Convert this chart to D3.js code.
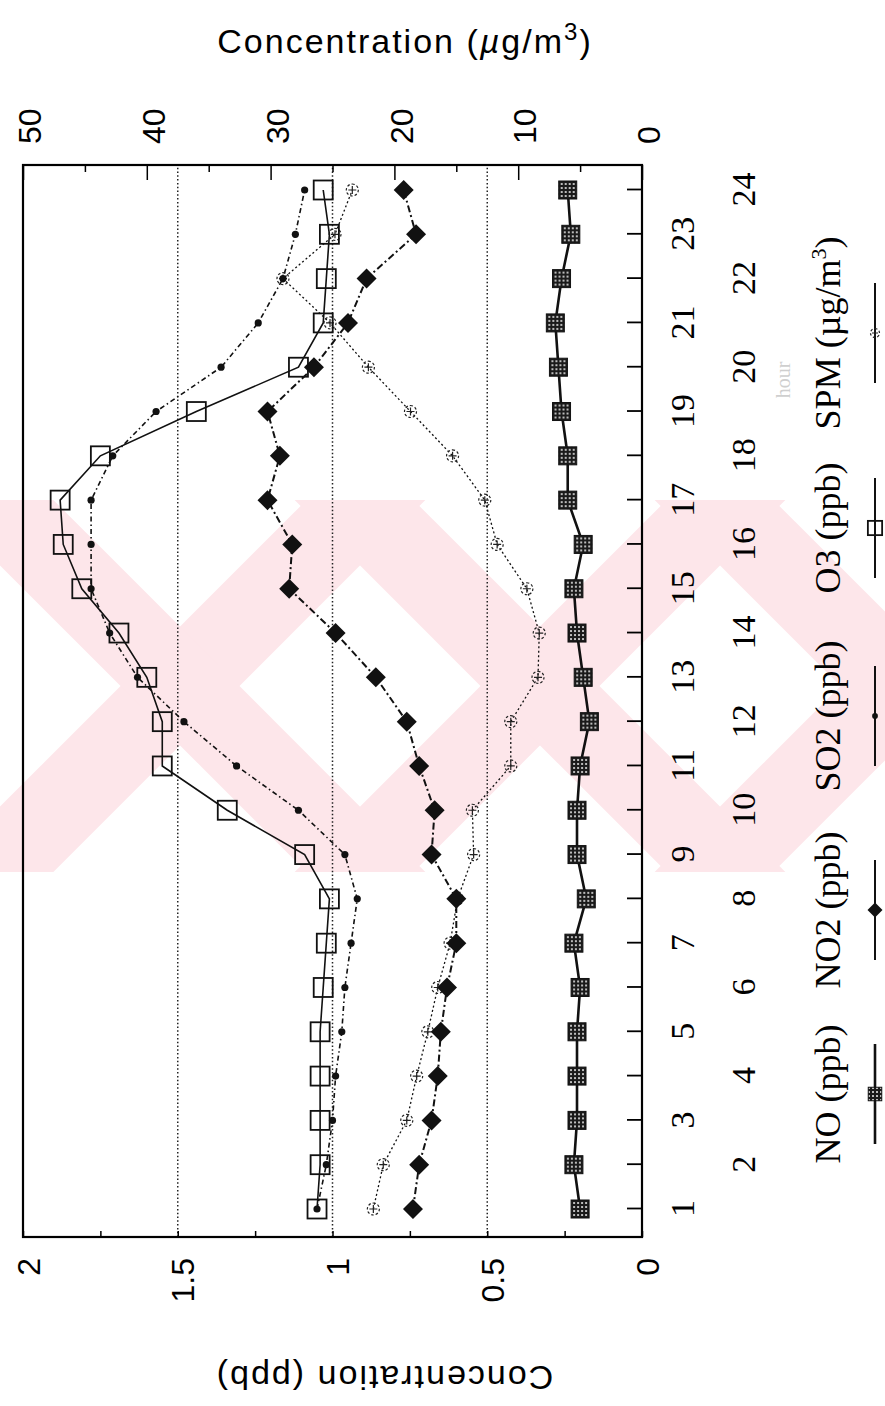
<!DOCTYPE html>
<html><head><meta charset="utf-8">
<script src="https://cdn.jsdelivr.net/npm/d3@7"></script>
<style>body{margin:0;background:#fff} svg{display:block}</style>
</head><body>
<svg id="c" width="885" height="1406"></svg>
<script>
// ---------------- DATA ----------------
const hours = [1,2,3,4,5,6,7,8,9,10,11,12,13,14,15,16,17,18,19,20,21,22,23,24];
const hourLabels = ["1","2","3","4","5","6","7","8","9","10","11","12","13","14","15","16","17","18","19","20","21","22","23","24"];
const ppbTicks = [0,0.25,0.5,0.75,1,1.25,1.5,1.75,2];
const ppbLabelVals = [0,0.5,1,1.5,2];
const ppbLabels = ["0","0.5","1","1.5","2"];
const ugTicks = [0,5,10,15,20,25,30,35,40,45,50];
const ugLabelVals = [0,10,20,30,40,50];
const ugLabels = ["0","10","20","30","40","50"];
const gridVals = [0.5,1,1.5];

const NO  = [0.20,0.22,0.21,0.21,0.21,0.20,0.22,0.18,0.21,0.21,0.20,0.17,0.19,0.21,0.22,0.19,0.24,0.24,0.26,0.27,0.28,0.26,0.23,0.24];
const NO2 = [0.74,0.72,0.68,0.66,0.65,0.63,0.60,0.60,0.68,0.67,0.72,0.76,0.86,0.99,1.14,1.13,1.21,1.17,1.21,1.06,0.95,0.89,0.73,0.77];
const SO2 = [1.05,1.02,1.00,0.99,0.97,0.96,0.94,0.92,0.96,1.11,1.31,1.48,1.63,1.72,1.78,1.78,1.78,1.71,1.57,1.36,1.24,1.16,1.12,1.09];
const O3  = [1.05,1.04,1.04,1.04,1.04,1.03,1.02,1.01,1.09,1.34,1.55,1.55,1.60,1.69,1.81,1.87,1.88,1.75,1.44,1.11,1.03,1.02,1.01,1.03];
const SPM = [21.7,20.9,19.0,18.2,17.3,16.5,15.5,14.9,13.6,13.7,10.6,10.6,8.4,8.3,9.3,11.7,12.7,15.3,18.7,22.1,25.2,29.0,24.8,23.4];

const seriesNames = ["NO","NO2","SO2","O3","SPM"];
const legendLabels = ["NO (ppb)","NO2 (ppb)","SO2 (ppb)","O3 (ppb)","SPM (\u00b5g/m"];
const leftTitle = "Concentration (ppb)";
const rightTitle = "Concentration (";
const xTitle = "hour";

// ---------------- LAYOUT ----------------
const W = 885, H = 1406;
const U0 = 169, U1 = 1241, V0 = 23, V1 = 642;   // plot box in unrotated frame
const legendU = [312, 496, 690, 878, 1073];
const SERIF = "'Liberation Serif','Times New Roman',serif";
const SANS = "'Liberation Sans',Arial,Helvetica,sans-serif";

const svg = d3.select('#c');
const defs = svg.append('defs');
const pat = defs.append('pattern').attr('id','chk').attr('patternUnits','userSpaceOnUse')
  .attr('width',4).attr('height',4);
pat.append('rect').attr('width',4).attr('height',4).attr('fill','#1a1a1a');
pat.append('circle').attr('cx',2).attr('cy',2).attr('r',0.95).attr('fill','#fff');
defs.append('clipPath').attr('id','wmclip').append('rect')
  .attr('x',0).attr('y',500).attr('width',W).attr('height',372);

// watermark (background)
const wm = svg.append('g').attr('clip-path','url(#wmclip)');
[180,540,900].forEach(cx => {
  [45,-45].forEach(a => {
    wm.append('rect').attr('x',cx-42).attr('y',686-330).attr('width',84).attr('height',660)
      .attr('transform',`rotate(${a},${cx},686)`).attr('fill','#fde6ea');
  });
});

// rotated chart group: local (u,v) -> screen (v, H-u)
const g = svg.append('g').attr('transform',`translate(0,${H}) rotate(-90)`);

const x = d3.scaleLinear().domain([1,24]).range([197,1216]);
const yP = d3.scaleLinear().domain([0,2]).range([V1,V0]);
const yU = d3.scaleLinear().domain([0,50]).range([V1,V0]);

// grid
g.selectAll('line.grid').data(gridVals).join('line').attr('class','grid')
  .attr('x1',U0).attr('x2',U1).attr('y1',d=>yP(d)).attr('y2',d=>yP(d))
  .attr('stroke','#222').attr('stroke-width',1.5).attr('stroke-dasharray','1.5,2.3');

// left axis (ppb)
const axL = d3.axisLeft(yP).tickValues(ppbTicks).tickSizeInner(-6).tickSizeOuter(0).tickPadding(21)
  .tickFormat(d => { const i = ppbLabelVals.indexOf(d); return i>=0 ? ppbLabels[i] : ''; });
const gl = g.append('g').attr('transform',`translate(${U0},0)`).call(axL);
gl.select('.domain').remove();
gl.selectAll('line').attr('stroke','#000').attr('stroke-width',1.5);
gl.selectAll('text').attr('font-family',SANS).attr('font-size',32).attr('fill','#000').attr('dy','0.5em');

// right axis (ug/m3)
const axR = d3.axisRight(yU).tickValues(ugTicks).tickSizeInner(-7).tickSizeOuter(0).tickPadding(21)
  .tickFormat(d => { const i = ugLabelVals.indexOf(d); return i>=0 ? ugLabels[i] : ''; });
const gr = g.append('g').attr('transform',`translate(${U1},0)`).call(axR);
gr.select('.domain').remove();
gr.selectAll('line').attr('stroke','#000').attr('stroke-width',1.5)
  .attr('x2', d => ugLabelVals.indexOf(d)>=0 ? -15 : -7);
gr.selectAll('text').attr('font-family',SANS).attr('font-size',32).attr('fill','#000').attr('dy','0.55em');

// bottom axis (hours)
const axB = d3.axisBottom(x).tickValues(hours).tickSizeInner(-15).tickSizeOuter(0).tickPadding(0)
  .tickFormat((d,i) => hourLabels[i]);
const gb = g.append('g').attr('transform',`translate(0,${V1})`).call(axB);
gb.select('.domain').remove();
gb.selectAll('line').attr('stroke','#000').attr('stroke-width',1.8);
gb.selectAll('text').attr('font-family',SERIF).attr('font-size',34).attr('fill','#000')
  .attr('y',(d,i)=> i%2===0 ? 40 : 101).attr('dy','0.35em');

// box
g.append('rect').attr('x',U0).attr('y',V0).attr('width',U1-U0).attr('height',V1-V0)
  .attr('fill','none').attr('stroke','#000').attr('stroke-width',2.2);

// series
const lineP = d3.line().x((d,i)=>x(hours[i])).y(d=>yP(d));
const lineU = d3.line().x((d,i)=>x(hours[i])).y(d=>yU(d));
const styles = {
  NO:  {w:2.6, dash:null},
  NO2: {w:2.0, dash:'7,3,2,3'},
  SO2: {w:1.6, dash:'5,3,1.5,3'},
  O3:  {w:1.6, dash:null},
  SPM: {w:1.3, dash:'2,2.5'}
};
const dataMap = {NO, NO2, SO2, O3, SPM};
["SPM","SO2","NO2","O3","NO"].forEach(k => {
  g.append('path').datum(dataMap[k]).attr('d', k==='SPM' ? lineU : lineP)
    .attr('fill','none').attr('stroke','#111').attr('stroke-width',styles[k].w)
    .attr('stroke-dasharray',styles[k].dash);
});

function marker(sel, k, size){
  const s = size || 1;
  if(k==='NO'){
    sel.append('rect').attr('x',-9*s).attr('y',-9*s).attr('width',18*s).attr('height',18*s)
      .attr('fill','url(#chk)').attr('stroke','#111').attr('stroke-width',1);
  } else if(k==='NO2'){
    const r = 10*s;
    sel.append('path').attr('d',`M0,${-r}L${r},0L0,${r}L${-r},0Z`).attr('fill','#111');
  } else if(k==='SO2'){
    sel.append('circle').attr('r',3.6*s).attr('fill','#111');
  } else if(k==='O3'){
    sel.append('rect').attr('x',-9.5*s).attr('y',-9.5*s).attr('width',19*s).attr('height',19*s)
      .attr('fill','none').attr('stroke','#111').attr('stroke-width',1.8);
  } else if(k==='SPM'){
    sel.append('circle').attr('r',6*s).attr('fill','none').attr('stroke','#222')
      .attr('stroke-width',1.2).attr('stroke-dasharray','2.5,2');
    sel.append('path').attr('d',`M${-4*s},0H${4*s}M0,${-4*s}V${4*s}`).attr('stroke','#222').attr('stroke-width',1.2);
  }
}
["SPM","SO2","NO2","O3","NO"].forEach(k => {
  const sc = k==='SPM' ? yU : yP;
  g.selectAll(null).data(dataMap[k]).join('g')
    .attr('transform',(d,i)=>`translate(${x(hours[i])},${sc(d)})`)
    .each(function(){ marker(d3.select(this), k); });
});

// legend
seriesNames.forEach((k,i) => {
  const u = legendU[i];
  const t = g.append('text').attr('x',u).attr('y',840).attr('text-anchor','middle')
    .attr('font-family',SERIF).attr('font-size',36).attr('fill','#000').text(legendLabels[i]);
  if(k==='SPM'){
    t.append('tspan').attr('font-size',22).attr('dy',-14).text('3');
    t.append('tspan').attr('dy',14).text(')');
  }
  g.append('line').attr('x1',u-50).attr('x2',u+50).attr('y1',875).attr('y2',875)
    .attr('stroke','#111').attr('stroke-width', k==='NO' ? 2.6 : 2);
  const mg = g.append('g').attr('transform',`translate(${u},875)`);
  marker(mg, k, k==='SO2' ? 0.8 : 0.75);
});

// faint x title
g.append('text').attr('x',1026).attr('y',790).attr('text-anchor','middle')
  .attr('font-family',SERIF).attr('font-size',20).attr('fill','#cfcfcf').text(xTitle);

// left title (ppb) – appears upside down
g.append('text').attr('transform','translate(40,384) rotate(-90)').attr('text-anchor','middle')
  .attr('font-family',SANS).attr('font-size',34).attr('letter-spacing',2).attr('fill','#000').text(leftTitle);

// right title (ug/m3)
const rt = g.append('text').attr('transform','translate(1353,405) rotate(90)').attr('text-anchor','middle')
  .attr('font-family',SANS).attr('font-size',34).attr('letter-spacing',2).attr('fill','#000');
rt.append('tspan').text(rightTitle);
rt.append('tspan').attr('font-style','italic').text('\u00b5');
rt.append('tspan').text('g/m');
rt.append('tspan').attr('font-size',24).attr('dy',-13).text('3');
rt.append('tspan').attr('dy',13).text(')');
</script>
</body></html>
